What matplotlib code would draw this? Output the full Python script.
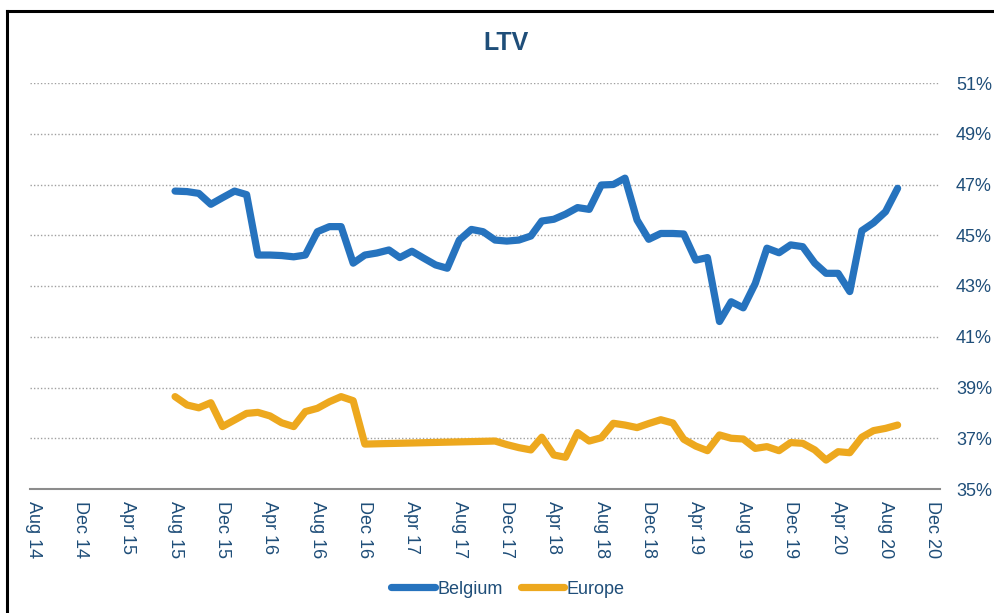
import matplotlib
matplotlib.use("Agg")
import matplotlib.pyplot as plt
import matplotlib.dates as mdates
from matplotlib.lines import Line2D
import pandas as pd

plt.rcParams["font.family"] = ["Liberation Sans", "DejaVu Sans"]

# Monthly loan-to-value ratios (%)
belgium_dates = pd.date_range("2015-08-01", "2020-09-01", freq="MS")
belgium = [
    46.74, 46.72, 46.65, 46.22, 46.48, 46.74, 46.60, 44.22, 44.22, 44.20,
    44.15, 44.22, 45.14, 45.34, 45.34, 43.90, 44.22, 44.30, 44.42, 44.12,
    44.37, 44.10, 43.83, 43.70, 44.81, 45.23, 45.14, 44.81, 44.77, 44.81,
    44.97, 45.56, 45.63, 45.83, 46.09, 46.02, 46.98, 47.00, 47.25, 45.60,
    44.84, 45.07, 45.07, 45.05, 44.02, 44.12, 41.60, 42.38, 42.14, 43.10,
    44.49, 44.31, 44.62, 44.55, 43.90, 43.50, 43.50, 42.78, 45.18, 45.49,
    45.93, 46.85,
]

europe_dates = list(pd.date_range("2015-08-01", "2016-12-01", freq="MS")) + \
    list(pd.date_range("2017-11-01", "2020-09-01", freq="MS"))
europe = [
    38.64, 38.31, 38.20, 38.40, 37.46, 37.72, 37.98, 38.02, 37.88, 37.61,
    37.46, 38.05, 38.18, 38.44, 38.64, 38.48, 36.77,
    36.89, 36.75, 36.63, 36.54, 37.04, 36.34, 36.25, 37.22, 36.89, 37.02,
    37.59, 37.52, 37.42, 37.58, 37.73, 37.60, 36.96, 36.69, 36.51, 37.13,
    37.00, 36.97, 36.60, 36.67, 36.51, 36.83, 36.80, 36.54, 36.14, 36.47,
    36.43, 37.04, 37.30, 37.39, 37.52,
]

y_ticks = [35, 37, 39, 41, 43, 45, 47, 49, 51]

BLUE = "#2673BE"
GOLD = "#EDA81E"
TEXT = "#1F4E79"

W, H = 995, 613
fig = plt.figure(figsize=(W / 100, H / 100), dpi=100)
ax = fig.add_axes([30 / W, 1 - 489 / H, 910 / W, 406 / H])

ax.plot(belgium_dates, belgium, color=BLUE, lw=5.2, solid_capstyle="round",
        solid_joinstyle="round", label="Belgium")
ax.plot(europe_dates, europe, color=GOLD, lw=5.2, solid_capstyle="round",
        solid_joinstyle="round", label="Europe")

ax.set_ylim(35, 51)
ax.set_yticks(y_ticks)
ax.set_yticklabels([f"{v}%" for v in y_ticks])
ax.yaxis.tick_right()
ax.tick_params(axis="y", length=0, pad=11.5, labelsize=13, labelcolor=TEXT)

ax.set_xlim(pd.Timestamp("2014-07-24"), pd.Timestamp("2020-12-19"))
ax.xaxis.set_major_locator(mdates.MonthLocator(bymonth=[4, 8, 12]))
ax.xaxis.set_major_formatter(mdates.DateFormatter("%b %y"))
ax.tick_params(axis="x", length=0, pad=8.5, labelsize=13, labelcolor=TEXT,
               labelrotation=-90)
for lbl in ax.get_xticklabels():
    lbl.set_va("top")
    lbl.set_ha("center")

ax.grid(axis="y", color="#A0A0A0", lw=1, linestyle=(0, (1, 1.5)))
ax.grid(axis="x", visible=False)
for side in ("top", "left", "right"):
    ax.spines[side].set_visible(False)
ax.spines["bottom"].set_color("#8C8C8C")
ax.spines["bottom"].set_linewidth(1.5)
ax.set_axisbelow(True)

fig.text(506 / W, 1 - 43 / H, "LTV", ha="center", va="center",
         fontsize=18, fontweight="bold", color=TEXT)

handles = [Line2D([], [], color=BLUE, lw=5.2, solid_capstyle="round"),
           Line2D([], [], color=GOLD, lw=5.2, solid_capstyle="round")]
leg = fig.legend(handles, ["Belgium", "Europe"], loc="center",
                 bbox_to_anchor=(508 / W, 1 - 589 / H), ncol=2, frameon=False,
                 fontsize=13, handlelength=2.4, handletextpad=0.15,
                 columnspacing=1.0)
for t in leg.get_texts():
    t.set_color(TEXT)

# Chart frame
fig.add_artist(Line2D([7 / W, 7 / W], [0, 1 - 11 / H], color="black", lw=2.2,
                      transform=fig.transFigure))
fig.add_artist(Line2D([7 / W, 1], [1 - 11 / H, 1 - 11 / H], color="black", lw=2.2,
                      transform=fig.transFigure))

fig.savefig("out.png", dpi=100)
